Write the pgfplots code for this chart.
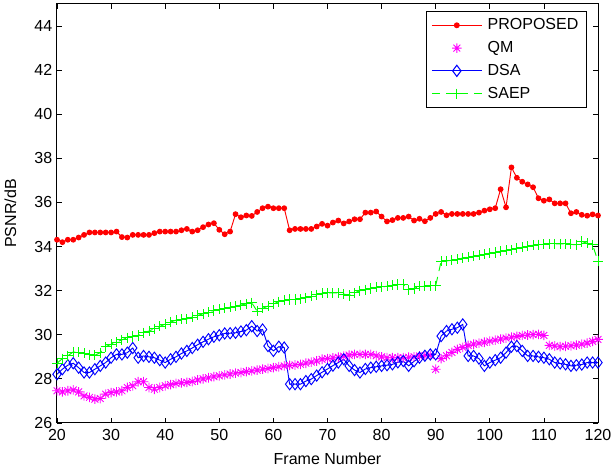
\documentclass[border=0pt]{standalone}
\usepackage{fontspec}
\setmainfont{Liberation Sans}
\usepackage{pgfplots}
\usepackage{pgfplotstable}
\pgfplotsset{compat=1.18}
\definecolor{mred}{RGB}{255,0,0}
\definecolor{mmag}{RGB}{255,0,255}
\definecolor{mblue}{RGB}{0,0,255}
\definecolor{mgreen}{RGB}{0,255,0}
\pgfdeclareplotmark{mstar}{%
 \pgfpathmoveto{\pgfqpoint{-\pgfplotmarksize}{0pt}}\pgfpathlineto{\pgfqpoint{\pgfplotmarksize}{0pt}}%
 \pgfpathmoveto{\pgfqpoint{0pt}{-\pgfplotmarksize}}\pgfpathlineto{\pgfqpoint{0pt}{\pgfplotmarksize}}%
 \pgfpathmoveto{\pgfqpoint{-0.707\pgfplotmarksize}{-0.707\pgfplotmarksize}}\pgfpathlineto{\pgfqpoint{0.707\pgfplotmarksize}{0.707\pgfplotmarksize}}%
 \pgfpathmoveto{\pgfqpoint{-0.707\pgfplotmarksize}{0.707\pgfplotmarksize}}\pgfpathlineto{\pgfqpoint{0.707\pgfplotmarksize}{-0.707\pgfplotmarksize}}%
 \pgfusepathqstroke}
\pgfplotstableread{
f prop qm dsa saep
20 34.31 27.46 28.21 28.71
21 34.20 27.41 28.44 28.92
22 34.31 27.46 28.62 29.05
23 34.31 27.50 28.71 29.22
24 34.41 27.41 28.51 29.20
25 34.53 27.23 28.29 29.16
26 34.64 27.16 28.29 29.10
27 34.64 27.08 28.44 29.07
28 34.64 27.11 28.59 29.19
29 34.64 27.31 28.74 29.46
30 34.64 27.38 28.96 29.57
31 34.68 27.41 29.11 29.67
32 34.43 27.46 29.11 29.77
33 34.41 27.61 29.19 29.87
34 34.53 27.69 29.40 29.92
35 34.53 27.87 28.96 29.97
36 34.53 27.87 29.04 30.10
37 34.53 27.61 29.00 30.17
38 34.61 27.53 28.96 30.28
39 34.68 27.61 28.85 30.38
40 34.68 27.69 28.74 30.48
41 34.68 27.74 28.89 30.58
42 34.68 27.79 29.00 30.66
43 34.74 27.82 29.15 30.70
44 34.80 27.84 29.27 30.72
45 34.68 27.88 29.40 30.80
46 34.74 27.95 29.55 30.88
47 34.88 28.00 29.68 30.95
48 35.00 28.05 29.80 31.03
49 35.06 28.10 29.91 31.10
50 34.76 28.14 29.98 31.15
51 34.56 28.18 30.06 31.20
52 34.68 28.22 30.07 31.25
53 35.47 28.26 30.09 31.30
54 35.33 28.29 30.15 31.35
55 35.41 28.33 30.21 31.40
56 35.39 28.36 30.39 31.45
57 35.57 28.40 30.17 31.07
58 35.74 28.44 30.24 31.20
59 35.81 28.47 29.49 31.30
60 35.74 28.51 29.27 31.40
61 35.74 28.55 29.46 31.50
62 35.74 28.59 29.42 31.57
63 34.74 28.61 27.76 31.60
64 34.80 28.63 27.76 31.60
65 34.80 28.66 27.76 31.63
66 34.80 28.71 27.90 31.68
67 34.80 28.76 27.99 31.75
68 34.91 28.81 28.15 31.82
69 35.03 28.89 28.30 31.88
70 34.95 28.92 28.45 31.90
71 35.09 28.95 28.60 31.90
72 35.18 28.98 28.74 31.90
73 35.05 29.03 28.89 31.85
74 35.14 29.08 28.59 31.78
75 35.24 29.11 28.40 31.90
76 35.24 29.11 28.29 32.00
77 35.54 29.11 28.45 32.05
78 35.54 29.11 28.51 32.10
79 35.59 29.05 28.55 32.15
80 35.36 29.00 28.59 32.17
81 35.14 28.96 28.62 32.20
82 35.20 28.96 28.66 32.25
83 35.30 28.96 28.75 32.28
84 35.30 28.96 28.81 32.28
85 35.36 28.98 28.59 32.05
86 35.18 29.00 28.80 32.10
87 35.26 29.04 28.96 32.20
88 35.15 29.06 29.05 32.20
89 35.30 29.07 29.11 32.22
90 35.48 28.44 29.11 32.23
91 35.57 28.92 29.94 33.33
92 35.42 29.05 30.17 33.35
93 35.48 29.20 30.25 33.38
94 35.48 29.34 30.32 33.42
95 35.48 29.43 30.47 33.48
96 35.48 29.52 29.04 33.52
97 35.48 29.57 29.04 33.56
98 35.54 29.62 28.92 33.60
99 35.63 29.66 28.59 33.65
100 35.69 29.71 28.74 33.70
101 35.74 29.76 28.85 33.73
102 36.60 29.80 28.96 33.78
103 35.78 29.85 29.19 33.83
104 37.59 29.89 29.46 33.85
105 37.12 29.93 29.49 33.93
106 36.94 29.97 29.27 33.97
107 36.82 29.99 29.04 34.02
108 36.69 30.01 29.04 34.06
109 36.19 30.02 29.00 34.08
110 36.08 29.97 28.96 34.10
111 36.14 29.52 28.89 34.12
112 35.96 29.49 28.74 34.12
113 35.96 29.46 28.70 34.12
114 35.96 29.48 28.66 34.12
115 35.51 29.50 28.59 34.10
116 35.57 29.53 28.62 34.08
117 35.44 29.57 28.65 34.23
118 35.40 29.62 28.74 34.15
119 35.46 29.70 28.74 34.08
120 35.41 29.79 28.74 33.33
}\datatable
\begin{document}
\begin{tikzpicture}
\begin{axis}[
  scale only axis, width=405.75pt, height=314.25pt,
  xmin=20, xmax=120, ymin=26, ymax=45,
  xtick={20,30,...,120}, ytick={26,28,...,44},
  tick align=inside, major tick length=4pt,
  tick style={black, line width=0.6pt},
  axis line style={line width=0.75pt},
  /pgf/number format/assume math mode=true,
  ticklabel style={font=\fontsize{12}{14}\selectfont},
  xticklabel style={yshift=-1pt},
  label style={font=\fontsize{12}{14}\selectfont},
  xlabel={Frame Number}, ylabel={PSNR/dB},
  xlabel style={at={([yshift=-26.5pt]axis description cs:0.5,0)}, anchor=center},
  ylabel style={at={([xshift=-35pt]axis description cs:0,0.5)}, anchor=center},
  legend style={at={(0.979,0.983)}, anchor=north east,
    font=\fontsize{12}{14}\selectfont, row sep=3.2pt, inner xsep=4pt, inner ysep=3.5pt,
    /tikz/every odd column/.append style={column sep=2pt}},
  legend cell align=left,
  legend image post style={line width=0.8pt},
  legend image code/.code={\draw[mark repeat=2,mark phase=2,#1] plot coordinates {(0pt,0pt) (18.75pt,0pt) (37.5pt,0pt)};},
]
\addplot[color=mred, line width=0.7pt, mark=*, mark size=1.8pt, mark options={solid, fill=mred}] table[x=f, y=prop] {\datatable};
\addlegendentry{PROPOSED}
\addplot[color=mmag, only marks, mark=mstar, mark size=3.6pt, mark options={line width=0.65pt}] table[x=f, y=qm] {\datatable};
\addlegendentry{QM}
\addplot[color=mblue, line width=0.7pt, mark=diamond, mark size=4.2pt, mark options={solid}] table[x=f, y=dsa] {\datatable};
\addlegendentry{DSA}
\addplot[color=mgreen, line width=0.7pt, dash pattern=on 6pt off 4.5pt, mark=+, mark size=3.8pt, mark options={solid}] table[x=f, y=saep] {\datatable};
\addlegendentry{SAEP}
\end{axis}
\pgfresetboundingbox
\path ([shift={(-42.75pt,-35.25pt)}]current axis.south west) rectangle ([shift={(9.75pt,3pt)}]current axis.north east);
\end{tikzpicture}
\end{document}
